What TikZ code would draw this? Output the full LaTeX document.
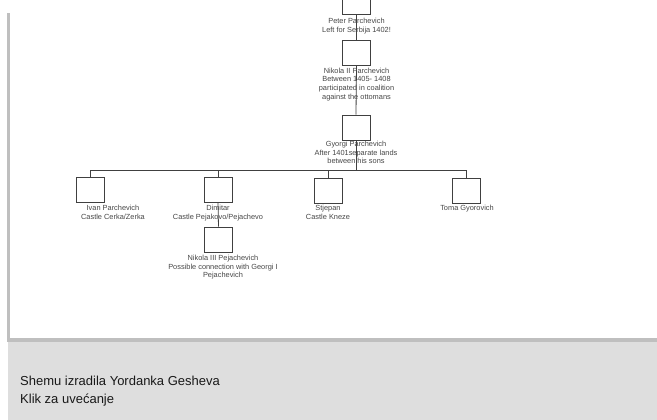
\documentclass[tikz,border=0pt]{standalone}
\usepackage{fontspec}
\setmainfont{Liberation Sans}
\begin{document}
\begin{tikzpicture}[x=1pt,y=-1pt,
  person/.style={draw=black!75,line width=0.8pt,minimum width=28pt,minimum height=25pt,inner sep=0pt},
  lbl/.style={text=black!72,font=\fontsize{7.4}{8.8}\selectfont,align=center,inner sep=0pt,anchor=north},
  link/.style={draw=black!75,line width=0.8pt},
  foot/.style={text=black!90,font=\fontsize{13}{18}\selectfont,align=left,inner sep=0pt,anchor=north west}]
\useasboundingbox (0,0) rectangle (657,420);
\clip (0,0) rectangle (657,420);
\fill[white] (0,0) rectangle (657,420);
% frame
\fill[black!25] (7,13) rectangle (10,342);
\fill[black!25] (7,338) rectangle (657,342);
\fill[black!13] (8,342) rectangle (657,420);
% boxes
\node[person] (peter) at (356.5,2) {};
\node[person] (nikola2) at (356.5,52.5) {};
\node[person] (gyorgi) at (356,127.5) {};
\node[person] (ivan) at (90,190) {};
\node[person] (dimitar) at (218,190) {};
\node[person] (stjepan) at (328,190.5) {};
\node[person] (toma) at (466,190.5) {};
\node[person] (nikola3) at (218.5,239.5) {};
% connectors
\coordinate (bus) at (356,170);
\draw[link] (peter.south) -- (nikola2.north);
\draw[link] (nikola2.south) -- (gyorgi.north);
\draw[link] (gyorgi.south) -- (bus);
\draw[link] (ivan.north |- bus) -- (toma.north |- bus);
\draw[link] (ivan.north |- bus) -- (ivan.north);
\draw[link] (dimitar.north |- bus) -- (dimitar.north);
\draw[link] (stjepan.north |- bus) -- (stjepan.north);
\draw[link] (toma.north |- bus) -- (toma.north);
\draw[link] (dimitar.south) -- (nikola3.north);
% labels
\node[lbl] (tpeter) at (356.5,18.0) {Peter Parchevich\\Left for Serbija 1402!};
\node[lbl] (tnikola2) at (356.5,67.6) {Nikola II Parchevich\\Between 1405- 1408\\participated in coalition\\against the ottomans};
\node[lbl] (tgyorgi) at (356,140.8) {Gyorgi Parchevich\\After 1401separate lands\\between his sons};
\node[lbl] (tivan) at (113,204.8) {Ivan Parchevich\\Castle Cerka/Zerka};
\node[lbl] (tdimitar) at (218,204.8) {Dimitar\\Castle Pejakovo/Pejachevo};
\node[lbl] (tstjepan) at (328,204.8) {Stjepan\\Castle Kneze};
\node[lbl] (ttoma) at (467,204.8) {Toma Gyorovich};
\node[lbl] (tnikola3) at (223,254.8) {Nikola III Pejachevich\\Possible connection with Georgi I\\Pejachevich};
% footer
\node[foot] (credit) at (20,376) {Shemu izradila Yordanka Gesheva\\Klik za uvećanje};
\end{tikzpicture}
\end{document}
